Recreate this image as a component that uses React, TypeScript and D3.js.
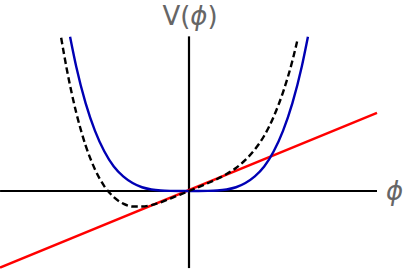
import React, { useEffect, useRef } from "react";
import * as d3 from "d3";

// phi values and potential curves
const bluePhi = [-2.53, -2.4, -2.2, -2.0, -1.8, -1.6, -1.4, -1.2, -1.0, -0.8, -0.6, -0.4, -0.2, 0, 0.2, 0.4, 0.6, 0.8, 1.0, 1.2, 1.4, 1.6, 1.8, 2.0, 2.2, 2.4, 2.53];
const blueV = [3.28, 2.65, 1.87, 1.28, 0.84, 0.52, 0.31, 0.17, 0.08, 0.033, 0.01, 0.002, 0, 0, 0, 0.002, 0.01, 0.033, 0.08, 0.17, 0.31, 0.52, 0.84, 1.28, 1.87, 2.65, 3.28];

const dashPhi = [-2.72, -2.6, -2.4, -2.2, -2.0, -1.8, -1.6, -1.4, -1.2, -1.0, -0.8, -0.6, -0.4, -0.2, 0, 0.2, 0.4, 0.6, 0.8, 1.0, 1.2, 1.4, 1.6, 1.8, 2.0, 2.2, 2.3];
const dashV = [3.26, 2.59, 1.67, 0.97, 0.46, 0.1, -0.13, -0.27, -0.33, -0.33, -0.3, -0.24, -0.16, -0.082, 0, 0.082, 0.166, 0.256, 0.361, 0.49, 0.662, 0.884, 1.176, 1.578, 2.1, 2.77, 3.18];

const redPhi = [-4.02, 4.0];
const redV = [-1.63, 1.66];

const W = 405;
const H = 271;

const App = () => {
	const ref = useRef<SVGSVGElement>(null);

	useEffect(() => {
		const svg = d3.select(ref.current);
		svg.selectAll("*").remove();

		const x = d3.scaleLinear().domain([-4, 4]).range([1, 377]);
		const y = d3.scaleLinear().domain([0, 1]).range([191, 144]);

		const line = d3
			.line<[number, number]>()
			.x((d) => x(d[0]))
			.y((d) => y(d[1]))
			.curve(d3.curveMonotoneX);

		const zip = (a: number[], b: number[]) => a.map((v, i) => [v, b[i]] as [number, number]);

		// axes
		svg.append("line")
			.attr("x1", x(-4.02)).attr("x2", x(4))
			.attr("y1", y(0)).attr("y2", y(0))
			.attr("stroke", "#000").attr("stroke-width", 2.2);
		svg.append("line")
			.attr("x1", x(0)).attr("x2", x(0))
			.attr("y1", y(3.29)).attr("y2", y(-1.64))
			.attr("stroke", "#000").attr("stroke-width", 2.2);

		svg.append("path")
			.datum(zip(redPhi, redV))
			.attr("d", line)
			.attr("fill", "none")
			.attr("stroke", "#ff0000")
			.attr("stroke-width", 2.4);

		svg.append("path")
			.datum(zip(bluePhi, blueV))
			.attr("d", line)
			.attr("fill", "none")
			.attr("stroke", "#0000b4")
			.attr("stroke-width", 2.4);

		svg.append("path")
			.datum(zip(dashPhi, dashV))
			.attr("d", line)
			.attr("fill", "none")
			.attr("stroke", "#000")
			.attr("stroke-width", 2.4)
			.attr("stroke-dasharray", "6.5,3.5");

		// labels
		const vLabel = svg.append("text")
			.attr("x", 190)
			.attr("y", 25)
			.attr("text-anchor", "middle")
			.attr("font-family", "DejaVu Sans")
			.attr("font-size", 26)
			.attr("fill", "#666");
		vLabel.append("tspan").text("V(");
		vLabel.append("tspan").attr("font-style", "italic").text("ϕ");
		vLabel.append("tspan").text(")");

		svg.append("text")
			.attr("x", 386)
			.attr("y", 200)
			.attr("font-family", "DejaVu Sans")
			.attr("font-style", "italic")
			.attr("font-size", 26)
			.attr("fill", "#666")
			.text("ϕ");
	}, []);

	return (
		<svg
			ref={ref}
			width={W}
			height={H}
			style={{ position: "absolute", left: 0, top: 0, background: "#fff" }}
		></svg>
	);
};

export default App;
